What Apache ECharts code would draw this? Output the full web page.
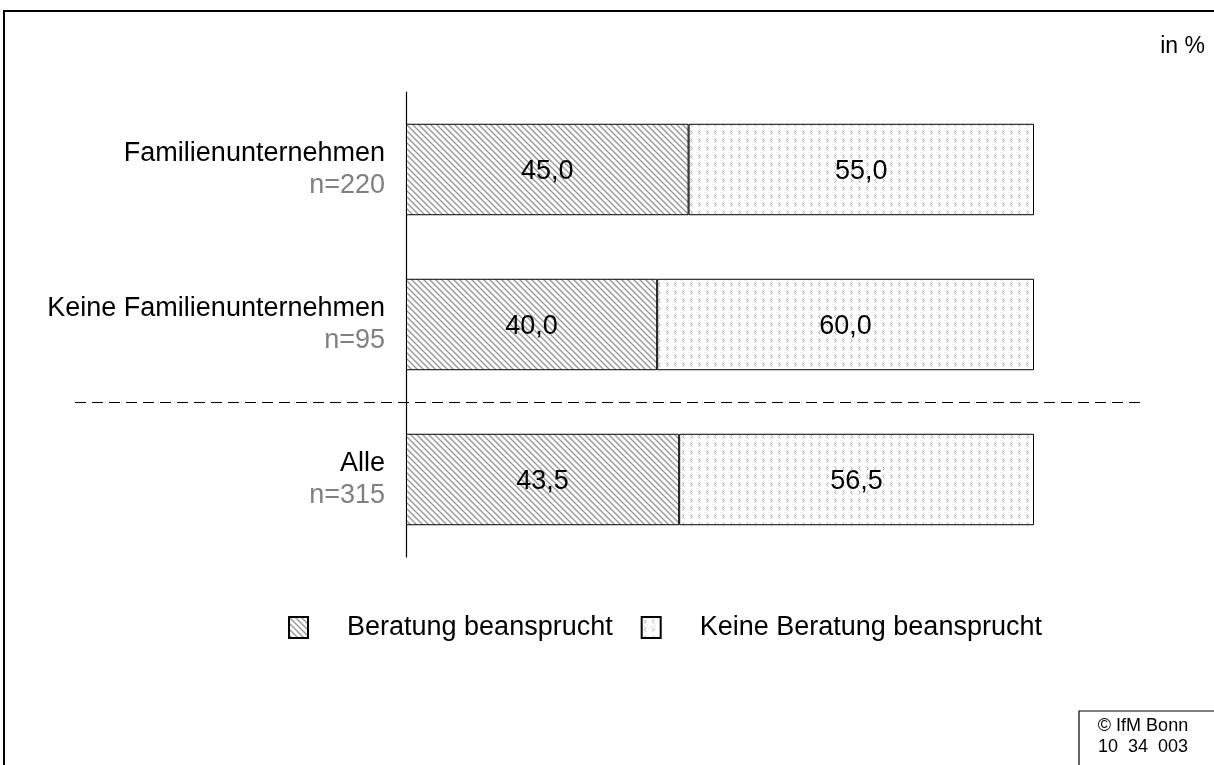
<!DOCTYPE html>
<html><head><meta charset="utf-8">
<script src="https://cdn.jsdelivr.net/npm/echarts@6/dist/echarts.min.js"></script>
<style>html,body{margin:0;padding:0;background:#fff}#c{width:1214px;height:765px}</style>
</head><body><div id="c"></div>
<script>
const categories = ['Familienunternehmen', 'Keine Familienunternehmen', 'Alle'];
const sampleSizes = ['n=220', 'n=95', 'n=315'];
const seriesNames = ['Beratung beansprucht', 'Keine Beratung beansprucht'];
const beratung = [45.0, 40.0, 43.5];
const keineBeratung = [55.0, 60.0, 56.5];

function hatchPattern() {
  const s = 6, c = document.createElement('canvas');
  c.width = s; c.height = s;
  const g = c.getContext('2d');
  g.fillStyle = '#fff'; g.fillRect(0, 0, s, s);
  g.strokeStyle = '#9a9a9a'; g.lineWidth = 1.4;
  for (let k = -1; k <= 1; k++) {
    g.beginPath(); g.moveTo(k * s - 1, -1); g.lineTo(k * s + s + 1, s + 1); g.stroke();
  }
  return c;
}
function chevronPattern() {
  const s = 16, c = document.createElement('canvas');
  c.width = s; c.height = s;
  const g = c.getContext('2d');
  g.fillStyle = '#fff'; g.fillRect(0, 0, s, s);
  g.strokeStyle = '#a0a0a0'; g.lineWidth = 1;
  function lt(x, y) { g.beginPath(); g.moveTo(x + 2, y - 2); g.lineTo(x, y); g.lineTo(x + 2, y + 2); g.stroke(); }
  function gt(x, y) { g.beginPath(); g.moveTo(x, y - 2); g.lineTo(x + 2, y); g.lineTo(x, y + 2); g.stroke(); }
  gt(2.5, 4.5); lt(10.5, 4.5); lt(2.5, 12.5); gt(10.5, 12.5);
  return c;
}
const fmt = p => p.value.toFixed(1).replace('.', ',');
const chart = echarts.init(document.getElementById('c'), null, {renderer: 'canvas'});
const font = 'Liberation Sans, Arial, sans-serif';
chart.setOption({
  animation: false,
  textStyle: {fontFamily: font},
  grid: {left: 406, top: 92, width: 628, height: 465, containLabel: false},
  xAxis: {type: 'value', min: 0, max: 100, show: false},
  yAxis: {
    type: 'category', data: categories, inverse: true,
    axisLine: {show: true, lineStyle: {color: '#000', width: 1.2}},
    axisTick: {show: false},
    axisLabel: {
      margin: 21, align: 'right',
      formatter: (v, i) => '{a|' + v + '}\n{b|' + sampleSizes[i] + '}',
      rich: {
        a: {fontSize: 27, color: '#000', fontFamily: font, lineHeight: 32},
        b: {fontSize: 27, color: '#808080', fontFamily: font, lineHeight: 32}
      }
    }
  },
  legend: {
    data: seriesNames, top: 614, left: 288, padding: 0,
    itemWidth: 19, itemHeight: 21, itemGap: 28,
    textStyle: {fontSize: 27, color: '#000', fontFamily: font, padding: [0, 0, 0, 34]},
    icon: 'rect'
  },
  series: [
    {
      name: seriesNames[0], type: 'bar', stack: 'a', data: beratung, barCategoryGap: '41%',
      itemStyle: {color: {image: hatchPattern(), repeat: 'repeat'}, borderColor: '#000', borderWidth: 1},
      label: {show: true, position: 'inside', offset: [0, 2], formatter: fmt, fontSize: 27, color: '#000', fontFamily: font}
    },
    {
      name: seriesNames[1], type: 'bar', stack: 'a', data: keineBeratung,
      itemStyle: {color: {image: chevronPattern(), repeat: 'repeat'}, borderColor: '#000', borderWidth: 1},
      label: {show: true, position: 'inside', offset: [0, 2], formatter: fmt, fontSize: 27, color: '#000', fontFamily: font}
    }
  ],
  graphic: [
    {type: 'rect', shape: {x: 4, y: 11, width: 1300, height: 900}, style: {fill: 'none', stroke: '#000', lineWidth: 2}, silent: true},
    {type: 'line', shape: {x1: 75, y1: 402.5, x2: 1140, y2: 402.5}, style: {stroke: '#000', lineWidth: 1, lineDash: [11, 6]}, silent: true},
    {type: 'text', right: 9, top: 35, style: {text: 'in %', fontSize: 23, fill: '#000', fontFamily: font}},
    {type: 'rect', shape: {x: 1079, y: 711, width: 200, height: 100}, style: {fill: '#fff', stroke: '#000', lineWidth: 1.2}},
    {type: 'text', x: 1143, y: 716, style: {text: '© IfM Bonn\n10  34  003', fontSize: 18, lineHeight: 21, fill: '#000', fontFamily: font, align: 'center'}}
  ]
});
</script></body></html>
